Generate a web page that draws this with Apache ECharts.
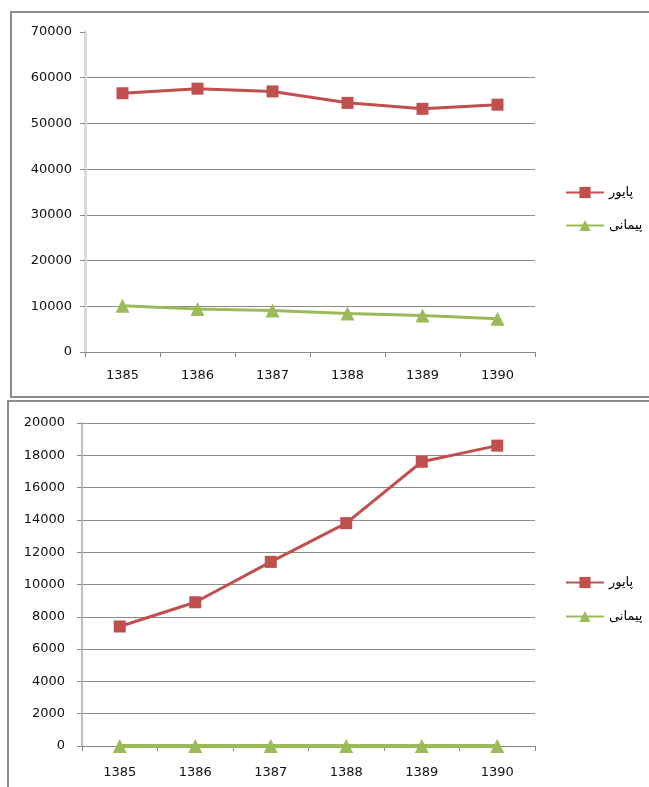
<!DOCTYPE html>
<html>
<head>
<meta charset="utf-8">
<style>
html,body{margin:0;padding:0;background:#fff;}
#c{width:649px;height:787px;}
</style>
<script src="https://cdn.jsdelivr.net/npm/echarts@6/dist/echarts.min.js"></script>
</head>
<body>
<div id="c"></div>
<script>
const categories = ['1385', '1386', '1387', '1388', '1389', '1390'];
const seriesNames = ['پایور', 'پیمانی'];
// Top chart
const topPayvar = [56600, 57600, 57000, 54500, 53200, 54100];
const topPeymani = [10100, 9400, 9100, 8400, 8000, 7300];
// Bottom chart
const bottomPayvar = [7400, 8900, 11400, 13800, 17600, 18600];
const bottomPeymani = [0, 0, 0, 0, 0, 0];

const RED = '#C0504D', GREEN = '#9BBB59';
const FONT = 'DejaVu Sans';

const chart = echarts.init(document.getElementById('c'), null, {renderer: 'canvas'});

function xAxis(gridIndex, margin) {
  return {
    type: 'category', gridIndex: gridIndex, data: categories, boundaryGap: true,
    axisLine: {show: true, lineStyle: {color: '#888', width: 1}},
    axisTick: {show: true, length: 5, lineStyle: {color: '#888'}},
    axisLabel: {color: '#111', fontFamily: FONT, fontSize: 13, margin: margin}
  };
}
function yAxis(gridIndex, max, interval, axisColor, axisWidth, margin, colors) {
  return {
    type: 'value', gridIndex: gridIndex, min: 0, max: max, interval: interval,
    axisLine: {show: true, lineStyle: {color: axisColor, width: axisWidth}},
    axisTick: {show: true, length: 5, lineStyle: {color: '#8a8a8a'}},
    axisLabel: {color: '#111', fontFamily: FONT, fontSize: 13, margin: margin,
      formatter: function (v) { return String(v); }},
    splitLine: {show: true, lineStyle: {color: colors, width: 1}}
  };
}

function lineSeries(name, data, color, symbol, size, width, idx) {
  return {
    name: name, type: 'line', data: data, xAxisIndex: idx, yAxisIndex: idx,
    symbol: symbol, symbolSize: size, showSymbol: true,
    lineStyle: {color: color, width: width},
    itemStyle: {color: color, borderWidth: 0},
    animation: false
  };
}

const G = '#8a8a8a', T = 'rgba(0,0,0,0)';
const option = {
  animation: false,
  backgroundColor: '#fff',
  grid: [
    {left: 85, top: 32, width: 450, height: 320},
    {left: 82, top: 423, width: 453, height: 323}
  ],
  xAxis: [xAxis(0, 17), xAxis(1, 20)],
  yAxis: [
    yAxis(0, 70000, 10000, '#d9d9d9', 3, 13, [G, G, G, G, G, G, G, T]),
    yAxis(1, 20000, 2000, '#bdbdbd', 2, 17, [G])
  ],
  legend: [
    {
      orient: 'vertical', left: 560, top: 181, itemWidth: 38, itemHeight: 14, itemGap: 20,
      data: seriesNames,
      textStyle: {color: '#000', fontFamily: FONT, fontSize: 13}
    },
    {
      orient: 'vertical', left: 560, top: 571, itemWidth: 38, itemHeight: 14, itemGap: 21,
      data: seriesNames,
      textStyle: {color: '#000', fontFamily: FONT, fontSize: 13}
    }
  ],
  graphic: [
    {type: 'polyline', shape: {points: [[760, 12], [11, 12], [11, 397], [760, 397]]}, style: {fill: null, stroke: '#8c8c8c', lineWidth: 2}, silent: true, z: -1},
    {type: 'polyline', shape: {points: [[760, 401], [8, 401], [8, 820]]}, style: {fill: null, stroke: '#8c8c8c', lineWidth: 2}, silent: true, z: -1}
  ],
  series: [
    lineSeries(seriesNames[0], topPayvar, RED, 'rect', 12, 3, 0),
    lineSeries(seriesNames[1], topPeymani, GREEN, 'triangle', 14, 3, 0),
    lineSeries(seriesNames[0], bottomPayvar, RED, 'rect', 12, 3, 1),
    lineSeries(seriesNames[1], bottomPeymani, GREEN, 'triangle', 14, 4, 1)
  ]
};
chart.setOption(option);
</script>
</body>
</html>
